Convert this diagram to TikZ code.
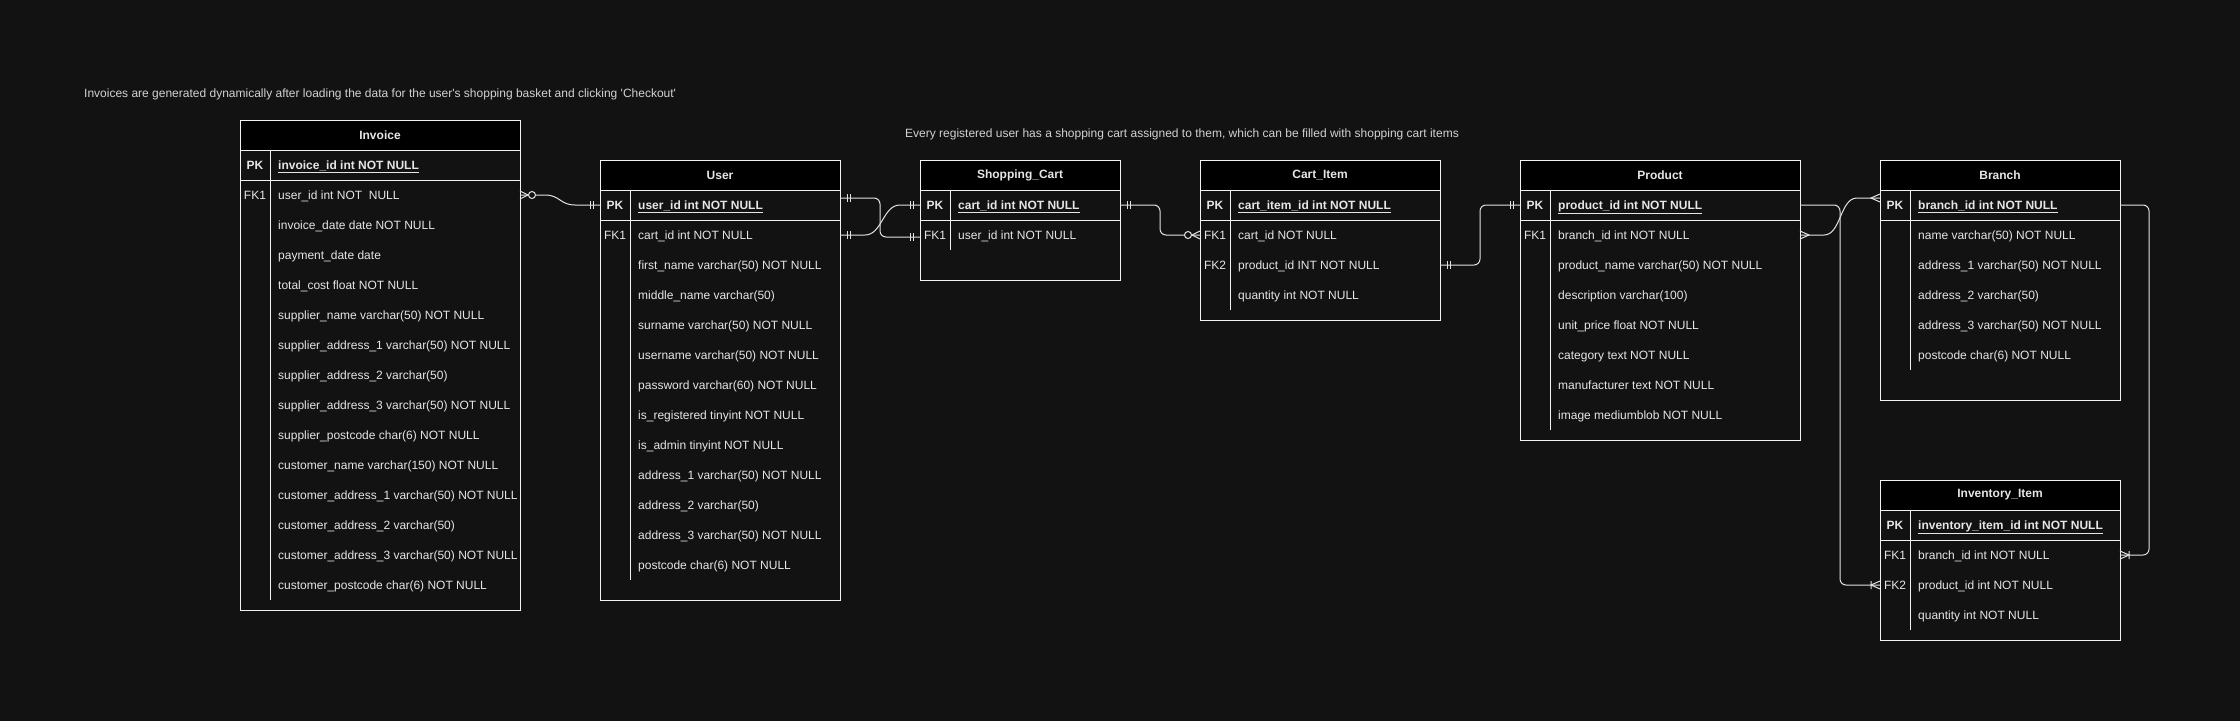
\documentclass[tikz,border=0pt]{standalone}
\usepackage{fontspec}
\setmainfont{Liberation Sans}
\usetikzlibrary{calc}
\definecolor{bgcol}{HTML}{121212}
\definecolor{linecol}{HTML}{F2F2F2}
\definecolor{relcol}{HTML}{E2E2E2}
\definecolor{textcol}{HTML}{E6E6E6}
\definecolor{notecol}{HTML}{D2D2D2}
\newcommand{\erfont}{\fontsize{12}{14}\selectfont}
\tikzstyle{tabframe} = [draw=linecol, fill=bgcol, line width=1pt, rectangle, anchor=north west, inner sep=0pt, outer sep=0pt]
\tikzstyle{tabhead} = [draw=linecol, fill=black, line width=1pt, rectangle, anchor=north, outer sep=0pt, minimum height=30pt, text=textcol, font=\erfont\bfseries]
\tikzstyle{tabline} = [draw=linecol, line width=1pt]
\tikzstyle{keylab} = [text=textcol, inner sep=0pt, text height=9pt, text depth=1pt, font=\erfont]
\tikzstyle{field} = [text=textcol, inner sep=0pt, anchor=west, text height=9pt, text depth=1pt, font=\erfont]
\tikzstyle{note} = [text=notecol, inner sep=0pt, anchor=west, font=\erfont]
\tikzstyle{relline} = [draw=relcol, line width=1pt]
\tikzset{
  mone/.pic={\draw[relline] (7,-4) -- (7,4) (10,-4) -- (10,4);},
  many/.pic={\draw[relline] (0,-4) -- (9,0) -- (0,4);},
  zmany/.pic={\draw[relline] (0,-4) -- (8,0) -- (0,4); \draw[relline, fill=bgcol] (12,0) circle (3.5);},
  onemany/.pic={\draw[relline] (0,-4) -- (9,0) -- (0,4) (9,-4) -- (9,4);}
}

\begin{document}
\begin{tikzpicture}[x=1pt, y=-1pt]
	\fill[bgcol] (0,0) rectangle (2240,721);
	\useasboundingbox (0,0) rectangle (2240,721);

	\node[note] (invoicenote) at (84,94) {Invoices are generated dynamically after loading the data for the user\textquotesingle s shopping basket and clicking \textquotesingle Checkout\textquotesingle};
	\node[note] (cartnote) at (905,134) {Every registered user has a shopping cart assigned to them, which can be filled with shopping cart items};

	\node[tabframe, minimum width=280pt, minimum height=490pt] (invoice) at (240,120) {};
	\node[tabhead, minimum width=280pt] (invoice-head) at (invoice.north) {Invoice};
	\draw[tabline] ($(invoice.north west)+(0,60)$) -- ++(280,0);
	\draw[tabline] ($(invoice.north west)+(30,30)$) -- ++(0,450);
	\node[keylab, font=\erfont\bfseries] (invoice-pkk) at ($(invoice.north west)+(15,45)$) {PK};
	\node[field, font=\erfont\bfseries] (invoice-pk) at ($(invoice.north west)+(38,45)$) {\underline{invoice\_id int NOT NULL}};
	\node[keylab] (invoice-k1) at ($(invoice.north west)+(15,75)$) {FK1};
	\foreach \fld [count=\i] in {user\_id int NOT\ \ NULL, invoice\_date date NOT NULL, payment\_date date, total\_cost float NOT NULL, supplier\_name varchar(50) NOT NULL, supplier\_address\_1 varchar(50) NOT NULL, supplier\_address\_2 varchar(50), supplier\_address\_3 varchar(50) NOT NULL, supplier\_postcode char(6) NOT NULL, customer\_name varchar(150) NOT NULL, customer\_address\_1 varchar(50) NOT NULL, customer\_address\_2 varchar(50), customer\_address\_3 varchar(50) NOT NULL, customer\_postcode char(6) NOT NULL}
		\node[field] (invoice-\i) at ($(invoice.north west)+(38,45+30*\i)$) {\fld};

	\node[tabframe, minimum width=240pt, minimum height=440pt] (user) at (600,160) {};
	\node[tabhead, minimum width=240pt] (user-head) at (user.north) {User};
	\draw[tabline] ($(user.north west)+(0,60)$) -- ++(240,0);
	\draw[tabline] ($(user.north west)+(30,30)$) -- ++(0,390);
	\node[keylab, font=\erfont\bfseries] (user-pkk) at ($(user.north west)+(15,45)$) {PK};
	\node[field, font=\erfont\bfseries] (user-pk) at ($(user.north west)+(38,45)$) {\underline{user\_id int NOT NULL}};
	\node[keylab] (user-k1) at ($(user.north west)+(15,75)$) {FK1};
	\foreach \fld [count=\i] in {cart\_id int NOT NULL, first\_name varchar(50) NOT NULL, middle\_name varchar(50), surname varchar(50) NOT NULL, username varchar(50) NOT NULL, password varchar(60) NOT NULL, is\_registered tinyint NOT NULL, is\_admin tinyint NOT NULL, address\_1 varchar(50) NOT NULL, address\_2 varchar(50), address\_3 varchar(50) NOT NULL, postcode char(6) NOT NULL}
		\node[field] (user-\i) at ($(user.north west)+(38,45+30*\i)$) {\fld};

	\node[tabframe, minimum width=200pt, minimum height=120pt] (cart) at (920,160) {};
	\node[tabhead, minimum width=200pt] (cart-head) at (cart.north) {Shopping\_Cart};
	\draw[tabline] ($(cart.north west)+(0,60)$) -- ++(200,0);
	\draw[tabline] ($(cart.north west)+(30,30)$) -- ++(0,60);
	\node[keylab, font=\erfont\bfseries] (cart-pkk) at ($(cart.north west)+(15,45)$) {PK};
	\node[field, font=\erfont\bfseries] (cart-pk) at ($(cart.north west)+(38,45)$) {\underline{cart\_id int NOT NULL}};
	\node[keylab] (cart-k1) at ($(cart.north west)+(15,75)$) {FK1};
	\node[field] (cart-1) at ($(cart.north west)+(38,75)$) {user\_id int NOT NULL};

	\node[tabframe, minimum width=240pt, minimum height=160pt] (cartitem) at (1200,160) {};
	\node[tabhead, minimum width=240pt] (cartitem-head) at (cartitem.north) {Cart\_Item};
	\draw[tabline] ($(cartitem.north west)+(0,60)$) -- ++(240,0);
	\draw[tabline] ($(cartitem.north west)+(30,30)$) -- ++(0,120);
	\node[keylab, font=\erfont\bfseries] (cartitem-pkk) at ($(cartitem.north west)+(15,45)$) {PK};
	\node[field, font=\erfont\bfseries] (cartitem-pk) at ($(cartitem.north west)+(38,45)$) {\underline{cart\_item\_id int NOT NULL}};
	\node[keylab] (cartitem-k1) at ($(cartitem.north west)+(15,75)$) {FK1};
	\node[keylab] (cartitem-k2) at ($(cartitem.north west)+(15,105)$) {FK2};
	\foreach \fld [count=\i] in {cart\_id NOT NULL, product\_id INT NOT NULL, quantity int NOT NULL}
		\node[field] (cartitem-\i) at ($(cartitem.north west)+(38,45+30*\i)$) {\fld};

	\node[tabframe, minimum width=280pt, minimum height=280pt] (product) at (1520,160) {};
	\node[tabhead, minimum width=280pt] (product-head) at (product.north) {Product};
	\draw[tabline] ($(product.north west)+(0,60)$) -- ++(280,0);
	\draw[tabline] ($(product.north west)+(30,30)$) -- ++(0,240);
	\node[keylab, font=\erfont\bfseries] (product-pkk) at ($(product.north west)+(15,45)$) {PK};
	\node[field, font=\erfont\bfseries] (product-pk) at ($(product.north west)+(38,45)$) {\underline{product\_id int NOT NULL}};
	\node[keylab] (product-k1) at ($(product.north west)+(15,75)$) {FK1};
	\foreach \fld [count=\i] in {branch\_id int NOT NULL, product\_name varchar(50) NOT NULL, description varchar(100), unit\_price float NOT NULL, category text NOT NULL, manufacturer text NOT NULL, image mediumblob NOT NULL}
		\node[field] (product-\i) at ($(product.north west)+(38,45+30*\i)$) {\fld};

	\node[tabframe, minimum width=240pt, minimum height=240pt] (branch) at (1880,160) {};
	\node[tabhead, minimum width=240pt] (branch-head) at (branch.north) {Branch};
	\draw[tabline] ($(branch.north west)+(0,60)$) -- ++(240,0);
	\draw[tabline] ($(branch.north west)+(30,30)$) -- ++(0,180);
	\node[keylab, font=\erfont\bfseries] (branch-pkk) at ($(branch.north west)+(15,45)$) {PK};
	\node[field, font=\erfont\bfseries] (branch-pk) at ($(branch.north west)+(38,45)$) {\underline{branch\_id int NOT NULL}};
	\foreach \fld [count=\i] in {name varchar(50) NOT NULL, address\_1 varchar(50) NOT NULL, address\_2 varchar(50), address\_3 varchar(50) NOT NULL, postcode char(6) NOT NULL}
		\node[field] (branch-\i) at ($(branch.north west)+(38,45+30*\i)$) {\fld};

	\node[tabframe, minimum width=240pt, minimum height=160pt] (inventory) at (1880,480) {};
	\node[tabhead, minimum width=240pt] (inventory-head) at (inventory.north) {Inventory\_Item};
	\draw[tabline] ($(inventory.north west)+(0,60)$) -- ++(240,0);
	\draw[tabline] ($(inventory.north west)+(30,30)$) -- ++(0,120);
	\node[keylab, font=\erfont\bfseries] (inventory-pkk) at ($(inventory.north west)+(15,45)$) {PK};
	\node[field, font=\erfont\bfseries] (inventory-pk) at ($(inventory.north west)+(38,45)$) {\underline{inventory\_item\_id int NOT NULL}};
	\node[keylab] (inventory-k1) at ($(inventory.north west)+(15,75)$) {FK1};
	\node[keylab] (inventory-k2) at ($(inventory.north west)+(15,105)$) {FK2};
	\foreach \fld [count=\i] in {branch\_id int NOT NULL, product\_id int NOT NULL, quantity int NOT NULL}
		\node[field] (inventory-\i) at ($(inventory.north west)+(38,45+30*\i)$) {\fld};

	\draw[relline] (invoice.east |- invoice-1) -- ++(25,0) .. controls +(15,0) and +(-15,0) .. ($(user.west |- user-pk)+(-25,0)$) -- (user.west |- user-pk);
	\draw[relline, rounded corners=6] ($(user.east |- user-pk)+(0,-7)$) -- ++(40,0) |- ($(cart.west |- cart-1)+(0,2)$);
	\draw[relline] (user.east |- user-1) -- ++(25,0) .. controls +(17,0) and +(-17,0) .. ($(cart.west |- cart-pk)+(-20,0)$) -- (cart.west |- cart-pk);
	\draw[relline, rounded corners=6] (cart.east |- cart-pk) -- ++(40,0) |- (cartitem.west |- cartitem-1);
	\draw[relline, rounded corners=6] (cartitem.east |- cartitem-2) -- ++(40,0) |- (product.west |- product-pk);
	\draw[relline] (product.east |- product-1) -- ++(24,0) .. controls +(17,0) and +(-17,0) .. ($(branch.west |- branch-pk)+(-23,-7)$) -- ($(branch.west |- branch-pk)+(0,-7)$);
	\draw[relline, rounded corners=6] (product.east |- product-pk) -- ++(40,0) |- (inventory.west |- inventory-2);
	\draw[relline, rounded corners=6] (branch.east |- branch-pk) -- ++(29,0) |- (inventory.east |- inventory-1);

	\pic at (invoice.east |- invoice-1) {zmany};
	\pic[xscale=-1] at (user.west |- user-pk) {mone};
	\pic at ($(user.east |- user-pk)+(0,-7)$) {mone};
	\pic at (user.east |- user-1) {mone};
	\pic[xscale=-1] at ($(cart.west |- cart-1)+(0,2)$) {mone};
	\pic[xscale=-1] at (cart.west |- cart-pk) {mone};
	\pic at (cart.east |- cart-pk) {mone};
	\pic[xscale=-1] at (cartitem.west |- cartitem-1) {zmany};
	\pic at (cartitem.east |- cartitem-2) {mone};
	\pic[xscale=-1] at (product.west |- product-pk) {mone};
	\pic at (product.east |- product-1) {many};
	\pic[xscale=-1] at ($(branch.west |- branch-pk)+(0,-7)$) {many};
	\pic[xscale=-1] at (inventory.west |- inventory-2) {onemany};
	\pic at (inventory.east |- inventory-1) {onemany};
\end{tikzpicture}
\end{document}
